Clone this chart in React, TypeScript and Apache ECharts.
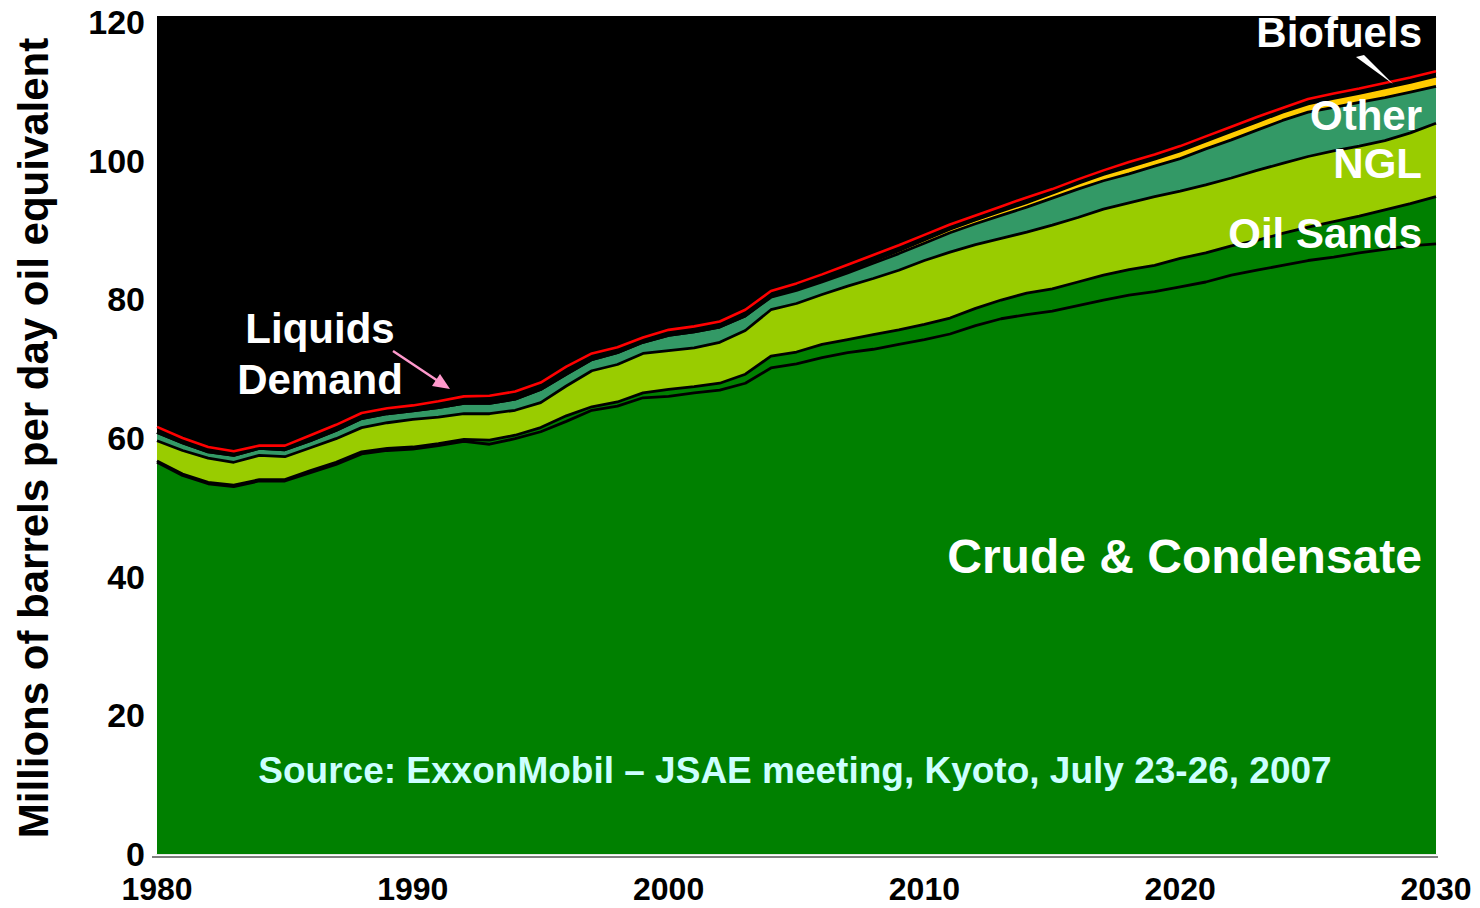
import React, { useEffect, useRef } from "react";
import * as echarts from "echarts";

const years = [
  "1980", "1981", "1982", "1983", "1984", "1985", "1986", "1987", "1988", "1989",
  "1990", "1991", "1992", "1993", "1994", "1995", "1996", "1997", "1998", "1999",
  "2000", "2001", "2002", "2003", "2004", "2005", "2006", "2007", "2008", "2009",
  "2010", "2011", "2012", "2013", "2014", "2015", "2016", "2017", "2018", "2019",
  "2020", "2021", "2022", "2023", "2024", "2025", "2026", "2027", "2028", "2029", "2030",
];

const crude = [
  56.5, 54.6, 53.4, 53.0, 53.8, 53.8, 55.0, 56.2, 57.7, 58.2,
  58.4, 58.9, 59.5, 59.1, 59.9, 60.9, 62.4, 64.0, 64.6, 65.8,
  66.0, 66.5, 66.9, 67.9, 70.1, 70.7, 71.6, 72.3, 72.8, 73.5,
  74.2, 75.0, 76.2, 77.2, 77.8, 78.3, 79.1, 79.9, 80.6, 81.1,
  81.8, 82.5, 83.5, 84.2, 84.9, 85.6, 86.1, 86.7, 87.2, 87.7, 88.0,
];

const oilSands = [
  0.2, 0.2, 0.2, 0.2, 0.2, 0.2, 0.3, 0.3, 0.3, 0.3,
  0.3, 0.3, 0.3, 0.6, 0.5, 0.6, 0.8, 0.5, 0.6, 0.7,
  1.0, 0.9, 1.0, 1.3, 1.7, 1.7, 1.9, 1.9, 2.1, 2.1,
  2.2, 2.3, 2.5, 2.7, 3.1, 3.2, 3.4, 3.6, 3.7, 3.8,
  4.1, 4.2, 4.2, 4.3, 4.6, 4.8, 5.1, 5.3, 5.7, 6.1, 6.8,
];

const ngl = [
  2.9, 3.4, 3.5, 3.3, 3.5, 3.3, 3.3, 3.4, 3.5, 3.7,
  4.0, 3.8, 3.7, 3.8, 3.6, 3.6, 4.3, 5.2, 5.4, 5.7,
  5.6, 5.6, 5.9, 6.3, 6.7, 7.0, 7.2, 7.7, 8.1, 8.6,
  9.2, 9.5, 9.2, 8.9, 8.8, 9.2, 9.3, 9.5, 9.6, 9.9,
  9.7, 9.8, 9.8, 10.1, 10.1, 10.2, 10.2, 10.1, 10.0, 10.2, 10.6,
];

const other = [
  1.2, 1.1, 0.9, 1.0, 1.0, 1.0, 1.0, 1.2, 1.3, 1.3,
  1.2, 1.4, 1.5, 1.5, 1.6, 1.9, 1.7, 1.6, 1.7, 1.6,
  2.2, 2.3, 2.2, 2.1, 1.8, 1.9, 1.8, 1.9, 2.2, 2.4,
  2.5, 2.8, 3.0, 3.3, 3.6, 3.9, 4.1, 4.1, 4.2, 4.4,
  4.7, 5.2, 5.5, 5.8, 6.2, 6.4, 6.3, 6.3, 6.2, 5.9, 5.3,
];

const biofuels = [
  0, 0, 0, 0, 0, 0, 0, 0, 0, 0,
  0, 0, 0, 0, 0, 0, 0, 0, 0, 0,
  0, 0, 0, 0, 0.1, 0.2, 0.25, 0.3, 0.35, 0.4,
  0.45, 0.5, 0.55, 0.6, 0.65, 0.7, 0.8, 0.9, 1.0, 1.0,
  1.1, 1.1, 1.2, 1.2, 1.2, 1.2, 1.3, 1.3, 1.4, 1.4, 1.5,
];

const liquidsDemand = [
  61.6, 60.0, 58.7, 58.1, 58.9, 58.9, 60.4, 61.9, 63.6, 64.3,
  64.7, 65.3, 66.0, 66.1, 66.7, 68.0, 70.3, 72.2, 73.1, 74.5,
  75.6, 76.1, 76.8, 78.5, 81.2, 82.3, 83.6, 85.0, 86.4, 87.8,
  89.3, 90.8, 92.1, 93.4, 94.7, 95.9, 97.3, 98.6, 99.8, 100.9,
  102.1, 103.5, 104.9, 106.3, 107.6, 108.9, 109.7, 110.4, 111.2, 112.0, 112.9,
];

const FONT = '"Liberation Sans", Arial, Helvetica, sans-serif';

function areaSeries(name: string, data: number[], color: string) {
  return {
    name,
    type: "line",
    stack: "supply",
    data,
    symbol: "none",
    smooth: false,
    silent: true,
    lineStyle: { color: "#000", width: 2.8 },
    areaStyle: { color, opacity: 1 },
    itemStyle: { color },
    emphasis: { disabled: true },
  };
}

function label(text: string, x: number, y: number, size: number, align: string, fill = "#fff") {
  return {
    type: "text",
    x,
    y,
    z: 50,
    silent: true,
    style: {
      text,
      fill,
      font: `bold ${size}px ${FONT}`,
      textAlign: align,
      textVerticalAlign: "middle",
      align,
      verticalAlign: "middle",
    },
  };
}

export default function App() {
  const ref = useRef<HTMLDivElement>(null);

  useEffect(() => {
    const chart = echarts.init(ref.current as HTMLDivElement, null, { renderer: "svg" });
    chart.setOption({
      animation: false,
      backgroundColor: "#fff",
      grid: {
        left: 157,
        right: 44,
        top: 22,
        bottom: 54,
        show: true,
        backgroundColor: "#000",
        borderWidth: 0,
      },
      xAxis: {
        type: "category",
        data: years,
        boundaryGap: false,
        axisLine: { show: true, lineStyle: { color: "#e6e6e6", width: 2 } },
        axisTick: {
          show: true,
          inside: true,
          length: 7,
          interval: 9,
          lineStyle: { color: "#fff", width: 2 },
        },
        axisLabel: {
          interval: 9,
          color: "#000",
          fontSize: 32,
          lineHeight: 26,
          fontWeight: "bold",
          fontFamily: FONT,
          margin: 22,
        },
        splitLine: { show: false },
      },
      yAxis: {
        type: "value",
        min: 0,
        max: 120,
        interval: 20,
        name: "Millions of barrels per day oil equivalent",
        nameLocation: "middle",
        nameRotate: 90,
        nameGap: 103,
        nameTextStyle: {
          color: "#000",
          fontSize: 42,
          fontWeight: "bold",
          fontFamily: FONT,
        },
        axisLine: { show: false },
        axisTick: { show: false },
        splitLine: { show: false },
        axisLabel: {
          color: "#000",
          fontSize: 34,
          lineHeight: 26,
          fontWeight: "bold",
          fontFamily: FONT,
          margin: 12,
        },
      },
      series: [
        areaSeries("Crude & Condensate", crude, "#008000"),
        areaSeries("Oil Sands", oilSands, "#008000"),
        areaSeries("NGL", ngl, "#99CC00"),
        areaSeries("Other", other, "#339966"),
        areaSeries("Biofuels", biofuels, "#FFCC00"),
        {
          name: "Liquids Demand",
          type: "line",
          data: liquidsDemand,
          symbol: "none",
          smooth: false,
          silent: true,
          z: 10,
          lineStyle: { color: "#FF0000", width: 2.6 },
          itemStyle: { color: "#FF0000" },
          emphasis: { disabled: true },
        },
      ],
      graphic: [
        {
          type: "rect",
          z: -10,
          silent: true,
          shape: { x: 157, y: 16, width: 1279, height: 10 },
          style: { fill: "#000" },
        },
        {
          type: "line",
          silent: true,
          shape: { x1: 152, y1: 857, x2: 1438, y2: 857 },
          style: { stroke: "#555", lineWidth: 1.5 },
        },
        label("Liquids", 320, 328, 42, "center"),
        label("Demand", 320, 379, 42, "center"),
        {
          type: "line",
          silent: true,
          z: 50,
          shape: { x1: 393, y1: 351, x2: 438, y2: 381 },
          style: { stroke: "#FF99CC", lineWidth: 2.5 },
        },
        {
          type: "polygon",
          silent: true,
          z: 50,
          shape: { points: [[450, 389], [432, 386], [440, 374]] },
          style: { fill: "#FF99CC" },
        },
        label("Biofuels", 1422, 32, 42, "right"),
        {
          type: "polygon",
          silent: true,
          z: 50,
          shape: { points: [[1356, 57], [1364, 55], [1393, 84]] },
          style: { fill: "#fff" },
        },
        label("Other", 1422, 115, 42, "right"),
        label("NGL", 1422, 163, 42, "right"),
        label("Oil Sands", 1422, 233, 42, "right"),
        label("Crude & Condensate", 1422, 556, 48, "right"),
        label("Source: ExxonMobil \u2013 JSAE meeting, Kyoto, July 23-26, 2007", 795, 770, 37, "center", "#CCFFFF"),
      ],
    });
    return () => chart.dispose();
  }, []);

  return (
    <div
      ref={ref}
      style={{ position: "fixed", left: 0, top: 0, width: 1480, height: 908 }}
    />
  );
}
